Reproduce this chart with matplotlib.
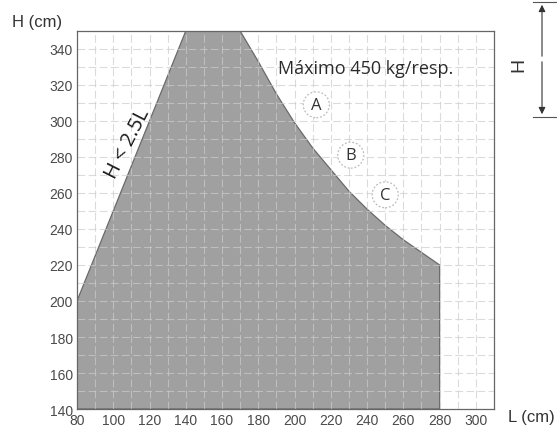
import matplotlib
matplotlib.use("Agg")
import matplotlib.pyplot as plt
from matplotlib.patches import Circle, Polygon

# envelope of the allowed area (L, H in cm)
left_L = [80, 140]
left_H = [200, 350]
curve_L = [170, 180, 190, 200, 210, 220, 230, 240, 250, 260, 270, 280]
curve_H = [350, 333, 315, 299, 285, 273, 261, 251, 242, 234, 227, 220]
base_H = 140

marks = ["A", "B", "C"]
mark_L = [212, 231, 250]
mark_H = [309, 281, 259]

x_ticks = list(range(80, 301, 20))
y_ticks = list(range(140, 341, 20))

plt.rcParams["font.family"] = ["Liberation Sans", "DejaVu Sans"]

fig = plt.figure(figsize=(5.57, 4.27), dpi=100)
ax = fig.add_axes([0.1382, 0.0398, 0.7487, 0.8853])
ax.set_xlim(80, 310)
ax.set_ylim(140, 350)

pts = [(left_L[0], base_H)] + list(zip(left_L, left_H)) + list(zip(curve_L, curve_H))
pts += [(curve_L[-1], base_H)]
ax.add_patch(Polygon(pts, closed=True, facecolor="#a0a0a0", edgecolor="#6a6a6a",
                     lw=0.9, zorder=1))

# dashed light grid every 10 cm, drawn over the fill
for x in range(90, 310, 10):
    ax.axvline(x, color="#cccccc", lw=0.8, dashes=(7, 3), zorder=2, alpha=0.7)
for y in range(150, 350, 10):
    ax.axhline(y, color="#cccccc", lw=0.8, dashes=(7, 3), zorder=2, alpha=0.7)

ax.set_xticks(x_ticks)
ax.set_yticks(y_ticks)
ax.tick_params(length=0, labelsize=10, colors="#4a4a4a", pad=3)
for s in ax.spines.values():
    s.set_color("#666666")
    s.set_linewidth(0.9)

for m, x, y in zip(marks, mark_L, mark_H):
    ax.add_patch(Circle((x, y), 7.2, facecolor="white", edgecolor="#bbbbbb",
                        lw=0.9, ls=(0, (1.5, 1.5)), zorder=3))
    ax.text(x, y, m, ha="center", va="center", fontsize=12, color="#333333",
            family="Open Sans", zorder=4)

ax.text(191, 329.5, "Máximo 450 kg/resp.", fontsize=13, color="#2a2a2a",
        family="Open Sans", ha="left", va="center", zorder=4)
ax.text(108, 288, "H < 2.5L", fontsize=14.5, rotation=63, color="#1a1a1a",
        family="Open Sans", ha="center", va="center", zorder=4)

fig.text(37, 427 - 23, "H (cm)", transform=None, fontsize=12,
         color="#333333", ha="center", va="center")
fig.text(531, 427 - 418, "L (cm)", transform=None, fontsize=12,
         color="#333333", ha="center", va="center")

# dimension marker for H at the right
fig.add_artist(plt.Line2D([533, 557], [424, 424], transform=None, color="#555555", lw=0.8))
fig.add_artist(plt.Line2D([533, 557], [309, 309], transform=None, color="#555555", lw=0.8))
ax.annotate("", xy=(542, 424), xytext=(542, 367), xycoords="figure pixels",
            textcoords="figure pixels",
            arrowprops=dict(arrowstyle="-|>", color="#333333", lw=0.8, mutation_scale=10))
ax.annotate("", xy=(542, 309), xytext=(542, 367), xycoords="figure pixels",
            textcoords="figure pixels",
            arrowprops=dict(arrowstyle="-|>", color="#333333", lw=0.8, mutation_scale=10))
fig.text(519, 427 - 65, "H", transform=None, fontsize=14, rotation=90,
         color="#333333", ha="center", va="center")

fig.savefig("out.png", dpi=100)
